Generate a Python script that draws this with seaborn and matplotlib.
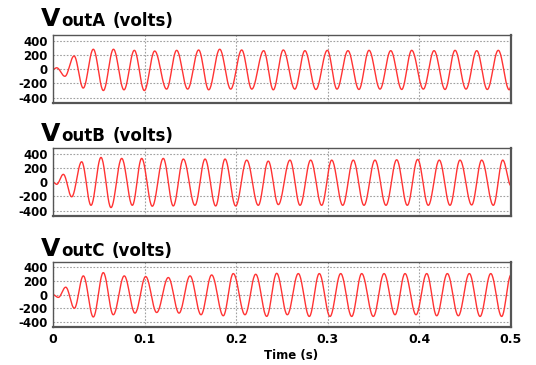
import numpy as np
import pandas as pd
import matplotlib
matplotlib.use('Agg')
import matplotlib.pyplot as plt
import seaborn as sns

# Extrema of each waveform (time in s, value in volts)
time_a = [0.000, 0.004, 0.013, 0.023, 0.033, 0.044, 0.055, 0.066, 0.0775, 0.0888,
          0.0997, 0.111, 0.124, 0.135, 0.147, 0.159, 0.170, 0.182, 0.194, 0.206,
          0.217, 0.230, 0.2405, 0.2514, 0.264, 0.275, 0.287, 0.2995, 0.310, 0.322,
          0.334, 0.345, 0.357, 0.3687, 0.3807, 0.3916, 0.4043, 0.416, 0.428, 0.4389,
          0.4509, 0.4626, 0.4741, 0.4861, 0.4981, 0.500]
volt_a = [0, 20, -100, 185, -265, 280, -300, 280, -290, 265,
          -300, 255, -280, 265, -280, 270, -290, 280, -280, 270,
          -280, 260, -290, 270, -280, 260, -285, 265, -280, 260,
          -285, 265, -280, 260, -285, 265, -280, 260, -285, 265,
          -280, 260, -285, 265, -290, -240]

time_b = [0.000, 0.004, 0.0113, 0.0204, 0.0313, 0.0415, 0.0524, 0.0633, 0.075, 0.0866,
          0.0968, 0.1084, 0.1204, 0.1313, 0.1423, 0.155, 0.166, 0.1776, 0.1878, 0.1994,
          0.2115, 0.2241, 0.235, 0.246, 0.2587, 0.2697, 0.2813, 0.2933, 0.3043, 0.3163,
          0.3278, 0.3395, 0.3515, 0.3635, 0.3752, 0.3868, 0.3981, 0.4097, 0.4217, 0.4334,
          0.4443, 0.4571, 0.468, 0.4807, 0.491, 0.500]
volt_b = [0, -30, 110, -205, 287, -325, 348, -357, 334, -325,
          334, -338, 334, -334, 325, -325, 325, -334, 325, -334,
          310, -325, 296, -315, 310, -325, 310, -325, 310, -325,
          310, -325, 310, -325, 315, -325, 320, -325, 310, -325,
          310, -320, 310, -325, 310, -50]

time_c = [0.000, 0.0058, 0.0139, 0.0233, 0.0331, 0.044, 0.0549, 0.0658, 0.0778, 0.0895,
          0.1012, 0.1132, 0.1259, 0.1376, 0.1496, 0.1616, 0.1732, 0.1859, 0.1968, 0.2096,
          0.2213, 0.2333, 0.2442, 0.2558, 0.2678, 0.2798, 0.2907, 0.3024, 0.3141, 0.3261,
          0.337, 0.3497, 0.3614, 0.3734, 0.3843, 0.3963, 0.408, 0.4189, 0.4305, 0.4425,
          0.4545, 0.4662, 0.4779, 0.4898, 0.500]
volt_c = [0, -40, 110, -200, 276, -328, 324, -295, 276, -271,
          266, -262, 252, -271, 276, -295, 290, -310, 310, -295,
          300, -319, 314, -295, 310, -320, 310, -320, 310, -320,
          310, -320, 310, -295, 310, -295, 310, -310, 310, -310,
          310, -320, 310, -320, 290]

panel_names = ['A', 'B', 'C']
y_ticks = [-400, -200, 0, 200, 400]
x_ticks = [0, 0.1, 0.2, 0.3, 0.4, 0.5]
x_tick_labels = ['0', '0.1', '0.2', '0.3', '0.4', '0.5']


def waveform(ts, vs, n=24):
    # join consecutive extrema with half-cosine arcs
    t_out, v_out = [], []
    for i in range(len(ts) - 1):
        s = np.linspace(0, 1, n, endpoint=False)
        t_out.append(ts[i] + (ts[i + 1] - ts[i]) * s)
        v_out.append(vs[i] + (vs[i + 1] - vs[i]) * (1 - np.cos(np.pi * s)) / 2)
    t_out.append([ts[-1]])
    v_out.append([vs[-1]])
    return pd.DataFrame({'t': np.concatenate(t_out), 'v': np.concatenate(v_out)})


sns.set_theme(style='white')
plt.rcParams['font.family'] = ['DejaVu Sans']
plt.rcParams['text.color'] = 'black'
plt.rcParams['xtick.color'] = 'black'
plt.rcParams['ytick.color'] = 'black'

W, H = 536, 365
fig = plt.figure(figsize=(W / 100, H / 100), dpi=100)

# axes boxes in pixels: (top, bottom)
boxes = [(35, 103), (148, 216), (262, 327)]
title_base = [26, 141, 256]
series = [(time_a, volt_a), (time_b, volt_b), (time_c, volt_c)]

left, right = 53, 511
for k, ((top, bot), (ts, vs)) in enumerate(zip(boxes, series)):
    ax = fig.add_axes([left / W, 1 - bot / H, (right - left) / W, (bot - top) / H])
    df = waveform(ts, vs)
    sns.lineplot(data=df, x='t', y='v', ax=ax, color='#ff3333', lw=1.0, sort=False)
    ax.set_xlim(0, 0.5)
    ax.set_ylim(-475, 480)
    ax.set_yticks(y_ticks)
    ax.set_yticklabels([str(v) for v in y_ticks], fontsize=8.5, fontweight='bold')
    ax.set_xticks(x_ticks)
    if k == 2:
        ax.set_xticklabels(x_tick_labels, fontsize=9, fontweight='bold')
    else:
        ax.set_xticklabels([])
    ax.tick_params(length=0, pad=4, labelcolor='black')
    ax.set_xlabel('')
    ax.set_ylabel('')
    ax.grid(True, color='#a0a0a0', lw=0.8, ls=(0, (1.5, 1.5)))
    for name, sp in ax.spines.items():
        sp.set_color('#555555')
        sp.set_linewidth(1.6 if name in ('right', 'bottom') else 1.0)

    # title: big "V" + "outX (volts)"
    yb = 1 - title_base[k] / H
    t1 = fig.text(41 / W, yb, 'V', fontsize=18, fontweight='bold', va='baseline', color='black')
    r = fig.canvas.get_renderer()
    x1 = t1.get_window_extent(r).x1 / W
    t2 = fig.text(x1 + 1 / W, yb, 'out' + panel_names[k], fontsize=12, fontweight='bold',
                  va='baseline', color='black')
    x2 = t2.get_window_extent(r).x1 / W
    fig.text(x2 + 7 / W, yb, '(volts)', fontsize=12, fontweight='bold', va='baseline', color='black')

fig.text(291 / W, 1 - 355 / H, 'Time (s)', fontsize=8.5, fontweight='bold', ha='center',
         va='center', color='black')

fig.savefig('out.png', dpi=100, facecolor='white')
